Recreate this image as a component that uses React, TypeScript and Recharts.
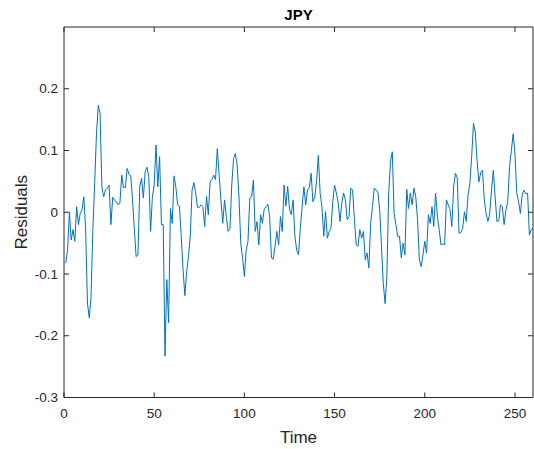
import { LineChart, Line, XAxis, YAxis } from "recharts";

// JPY residuals, one value per time step (t = 1..260)
const RESIDUALS = [
  -0.082, -0.06, 0.0, -0.045, -0.028, -0.047, 0.009, -0.02, -0.002, 0.004,
  0.025, -0.028, -0.147, -0.171, -0.136, -0.028, 0.047, 0.127, 0.173, 0.16,
  0.041, 0.025, 0.036, 0.039, 0.044, -0.02, 0.024, 0.02, 0.017, 0.012,
  0.015, 0.06, 0.04, 0.04, 0.071, 0.062, 0.059, 0.02, -0.028, -0.072,
  -0.069, 0.041, 0.055, 0.023, 0.066, 0.073, 0.058, -0.031, 0.025, 0.044,
  0.109, 0.041, 0.09, -0.02, -0.02, -0.233, -0.109, -0.179, 0.006, -0.018,
  0.059, 0.041, 0.012, 0.01, -0.039, -0.093, -0.135, -0.096, -0.072, -0.039,
  0.036, 0.048, 0.031, 0.008, 0.008, 0.012, 0.009, -0.023, 0.026, -0.004,
  0.049, 0.053, 0.06, 0.053, 0.103, 0.06, 0.02, -0.018, 0.02, -0.007,
  -0.031, -0.026, 0.044, 0.087, 0.095, 0.076, 0.025, -0.05, -0.074, -0.104,
  -0.061, -0.047, 0.023, 0.025, 0.052, -0.031, -0.015, -0.053, -0.004, -0.018,
  0.005, 0.009, 0.013, -0.007, -0.074, -0.076, -0.055, -0.031, -0.053, -0.007,
  -0.031, 0.044, 0.01, 0.042, 0.005, -0.004, 0.02, -0.039, -0.061, -0.069,
  -0.026, 0.009, 0.041, 0.012, 0.036, 0.04, 0.063, 0.017, 0.025, 0.049,
  0.092, 0.031, 0.009, -0.039, 0.001, -0.042, -0.031, -0.026, 0.017, 0.044,
  0.031, 0.015, -0.015, 0.015, 0.031, 0.02, -0.012, -0.007, 0.039, 0.036,
  -0.012, -0.053, -0.055, -0.028, -0.042, -0.031, -0.077, -0.066, -0.09, -0.018,
  0.009, 0.039, 0.036, 0.033, 0.004, -0.055, -0.115, -0.148, -0.104, 0.031,
  0.082, 0.098, -0.002, -0.02, -0.039, -0.039, -0.074, -0.05, -0.069, 0.037,
  0.006, 0.031, 0.012, 0.039, 0.025, -0.012, -0.077, -0.088, -0.069, -0.047,
  -0.066, -0.004, -0.018, 0.009, -0.023, 0.031, -0.007, -0.028, -0.053, -0.051,
  -0.053, 0.02, 0.012, 0.004, -0.023, 0.041, 0.063, 0.056, -0.034, -0.033,
  -0.026, 0.001, -0.015, 0.028, 0.047, 0.09, 0.144, 0.13, 0.084, 0.049,
  0.064, 0.068, 0.02, -0.002, -0.015, -0.002, 0.036, 0.068, 0.025, -0.015,
  -0.014, 0.012, 0.009, -0.02, 0.004, 0.017, 0.074, 0.1, 0.127, 0.095,
  0.031, 0.017, -0.002, 0.028, 0.036, 0.03, 0.031, -0.037, -0.028, -0.026,
];

const X_TICKS = [0, 50, 100, 150, 200, 250];
const Y_TICKS = [-0.3, -0.2, -0.1, 0, 0.1, 0.2];
const X_DOMAIN: [number, number] = [0, 260];
const Y_DOMAIN: [number, number] = [-0.3, 0.3];

const data = RESIDUALS.map((v, i) => ({ t: i + 1, v }));

const INK = "#262626";
const LINE_BLUE = "#0072BD";
const FONT = '"Liberation Sans", Arial, Helvetica, sans-serif';
const TICK_LEN = 5;
const TICK_FONT = 13.5;
const LABEL_FONT = 17;

const fmt = (v: number) => String(Math.round(v * 10) / 10);

// ticks point into the plot box, like a boxed MATLAB axes
const BottomTick = ({ x, y, payload }: any) => (
  <g>
    <line x1={x} y1={y} x2={x} y2={y - TICK_LEN} stroke={INK} />
    <text x={x} y={y + 20} textAnchor="middle" fontSize={TICK_FONT} fill={INK} fontFamily={FONT}>
      {fmt(payload.value)}
    </text>
  </g>
);

const TopTick = ({ x, y }: any) => (
  <line x1={x} y1={y} x2={x} y2={y + TICK_LEN} stroke={INK} />
);

const LeftTick = ({ x, y, payload }: any) => (
  <g>
    <line x1={x} y1={y} x2={x + TICK_LEN} y2={y} stroke={INK} />
    <text x={x - 6} y={y} dy="0.35em" textAnchor="end" fontSize={TICK_FONT} fill={INK} fontFamily={FONT}>
      {fmt(payload.value)}
    </text>
  </g>
);

const RightTick = ({ x, y }: any) => (
  <line x1={x} y1={y} x2={x - TICK_LEN} y2={y} stroke={INK} />
);

const TitleLabel = ({ viewBox }: any) => (
  <text
    x={viewBox.x + viewBox.width / 2}
    y={viewBox.y + 20}
    textAnchor="middle"
    fontSize={15}
    fontWeight="bold"
    fill="#000"
    fontFamily={FONT}
  >
    JPY
  </text>
);

const TimeLabel = ({ viewBox }: any) => (
  <text
    x={viewBox.x + viewBox.width / 2}
    y={viewBox.y + 45.5}
    textAnchor="middle"
    fontSize={LABEL_FONT}
    fill={INK}
    fontFamily={FONT}
  >
    Time
  </text>
);

const ResidualsLabel = ({ viewBox }: any) => {
  const cx = viewBox.x + 27;
  const cy = viewBox.y + viewBox.height / 2;
  return (
    <text
      x={cx}
      y={cy}
      transform={`rotate(-90, ${cx}, ${cy})`}
      textAnchor="middle"
      fontSize={LABEL_FONT}
      fill={INK}
      fontFamily={FONT}
    >
      Residuals
    </text>
  );
};

export default function App() {
  return (
    <div style={{ position: "absolute", left: 0, top: 0, width: 534, height: 449, background: "#fff" }}>
      <LineChart width={534} height={449} data={data} margin={{ top: 0, right: 0, bottom: 0, left: 0 }}>
        <XAxis
          xAxisId="bottom"
          dataKey="t"
          type="number"
          domain={X_DOMAIN}
          ticks={X_TICKS}
          allowDataOverflow
          height={51.5}
          axisLine={{ stroke: INK }}
          tickLine={false}
          tickSize={0}
          tickMargin={0}
          tick={BottomTick}
          label={TimeLabel}
        />
        <XAxis
          xAxisId="top"
          orientation="top"
          dataKey="t"
          type="number"
          domain={X_DOMAIN}
          ticks={X_TICKS}
          allowDataOverflow
          height={27}
          axisLine={{ stroke: INK }}
          tickLine={false}
          tickSize={0}
          tickMargin={0}
          tick={TopTick}
          label={TitleLabel}
        />
        <YAxis
          yAxisId="left"
          type="number"
          domain={Y_DOMAIN}
          ticks={Y_TICKS}
          allowDataOverflow
          width={64}
          axisLine={{ stroke: INK }}
          tickLine={false}
          tickSize={0}
          tickMargin={0}
          tick={LeftTick}
          label={ResidualsLabel}
        />
        <YAxis
          yAxisId="right"
          orientation="right"
          type="number"
          domain={Y_DOMAIN}
          ticks={Y_TICKS}
          allowDataOverflow
          width={1}
          axisLine={{ stroke: INK }}
          tickLine={false}
          tickSize={0}
          tickMargin={0}
          tick={RightTick}
        />
        <Line
          xAxisId="bottom"
          yAxisId="left"
          type="linear"
          dataKey="v"
          stroke={LINE_BLUE}
          strokeWidth={1}
          dot={false}
          activeDot={false}
          isAnimationActive={false}
        />
      </LineChart>
    </div>
  );
}
